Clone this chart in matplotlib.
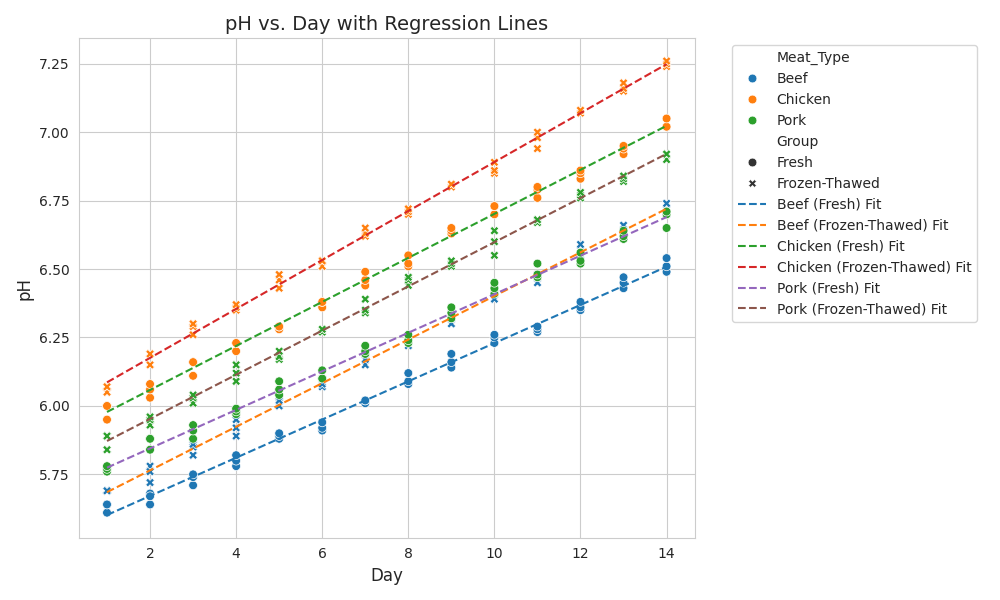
import matplotlib
matplotlib.use('Agg')
import numpy as np
import pandas as pd
import matplotlib.pyplot as plt
import seaborn as sns

days = list(range(1, 15))
beef_fresh = [[5.61, 5.64, 5.64], [5.64, 5.68, 5.67], [5.71, 5.74, 5.75], [5.78, 5.80, 5.82],
              [5.88, 5.89, 5.90], [5.91, 5.92, 5.94], [6.01, 6.02, 6.02], [6.08, 6.09, 6.12],
              [6.14, 6.16, 6.19], [6.23, 6.25, 6.26], [6.27, 6.28, 6.29], [6.35, 6.36, 6.38],
              [6.43, 6.45, 6.47], [6.49, 6.51, 6.54]]
beef_ft = [[5.69, 5.69, 5.69], [5.72, 5.78, 5.76], [5.82, 5.85, 5.86], [5.89, 5.92, 5.95],
           [6.00, 6.03, 6.02], [6.07, 6.08, 6.10], [6.15, 6.17, 6.19], [6.22, 6.24, 6.25],
           [6.30, 6.32, 6.34], [6.39, 6.41, 6.42], [6.45, 6.47, 6.48], [6.55, 6.57, 6.59],
           [6.62, 6.64, 6.66], [6.70, 6.72, 6.74]]
chicken_fresh = [[5.95, 6.00, 6.00], [6.03, 6.06, 6.08], [6.11, 6.16, 6.16], [6.20, 6.23, 6.23],
                 [6.28, 6.29, 6.29], [6.36, 6.38, 6.38], [6.44, 6.46, 6.49], [6.51, 6.52, 6.55],
                 [6.63, 6.64, 6.65], [6.70, 6.73, 6.73], [6.76, 6.79, 6.80], [6.83, 6.85, 6.86],
                 [6.92, 6.94, 6.95], [7.02, 7.02, 7.05]]
chicken_ft = [[6.05, 6.07, 6.07], [6.15, 6.19, 6.19], [6.26, 6.29, 6.30], [6.35, 6.36, 6.37],
              [6.43, 6.46, 6.48], [6.51, 6.53, 6.53], [6.62, 6.63, 6.65], [6.70, 6.71, 6.72],
              [6.80, 6.81, 6.81], [6.85, 6.86, 6.89], [6.94, 6.98, 7.00], [7.07, 7.08, 7.08],
              [7.15, 7.16, 7.18], [7.24, 7.25, 7.26]]
pork_fresh = [[5.76, 5.77, 5.78], [5.84, 5.88, 5.88], [5.88, 5.91, 5.93], [5.97, 5.98, 5.99],
              [6.04, 6.06, 6.09], [6.10, 6.10, 6.13], [6.19, 6.20, 6.22], [6.23, 6.24, 6.26],
              [6.32, 6.34, 6.36], [6.41, 6.43, 6.45], [6.47, 6.48, 6.52], [6.52, 6.53, 6.56],
              [6.61, 6.62, 6.64], [6.65, 6.70, 6.71]]
pork_ft = [[5.84, 5.89, 5.89], [5.93, 5.95, 5.96], [6.01, 6.03, 6.04], [6.09, 6.12, 6.15],
           [6.17, 6.18, 6.20], [6.27, 6.28, 6.28], [6.34, 6.35, 6.39], [6.44, 6.46, 6.47],
           [6.51, 6.52, 6.53], [6.55, 6.60, 6.64], [6.67, 6.68, 6.68], [6.76, 6.77, 6.78],
           [6.82, 6.83, 6.84], [6.90, 6.92, 6.92]]

series = [('Beef', 'Fresh', beef_fresh), ('Beef', 'Frozen-Thawed', beef_ft),
          ('Chicken', 'Fresh', chicken_fresh), ('Chicken', 'Frozen-Thawed', chicken_ft),
          ('Pork', 'Fresh', pork_fresh), ('Pork', 'Frozen-Thawed', pork_ft)]

rows = []
for meat, grp, vals in series:
    for d, reps in zip(days, vals):
        for v in reps:
            rows.append((d, v, meat, grp))
df = pd.DataFrame(rows, columns=['Day', 'pH', 'Meat_Type', 'Group'])

sns.set_style('whitegrid')
fig, ax = plt.subplots(figsize=(10, 6), dpi=100)
sns.scatterplot(data=df, x='Day', y='pH', hue='Meat_Type', style='Group', s=40, ax=ax)

colors = plt.rcParams['axes.prop_cycle'].by_key()['color']
for i, (meat, grp, _) in enumerate(series):
    sub = df[(df.Meat_Type == meat) & (df.Group == grp)]
    b = np.polyfit(sub.Day, sub.pH, 1)
    xs = np.array([1, 14])
    ax.plot(xs, np.polyval(b, xs), '--', color=colors[i], label=f'{meat} ({grp}) Fit')

ax.set_title('pH vs. Day with Regression Lines', fontsize=14)
ax.set_xlabel('Day', fontsize=12)
ax.set_ylabel('pH', fontsize=12)
ax.legend(bbox_to_anchor=(1.05, 1), loc='upper left')
plt.tight_layout()
plt.savefig('out.png')
